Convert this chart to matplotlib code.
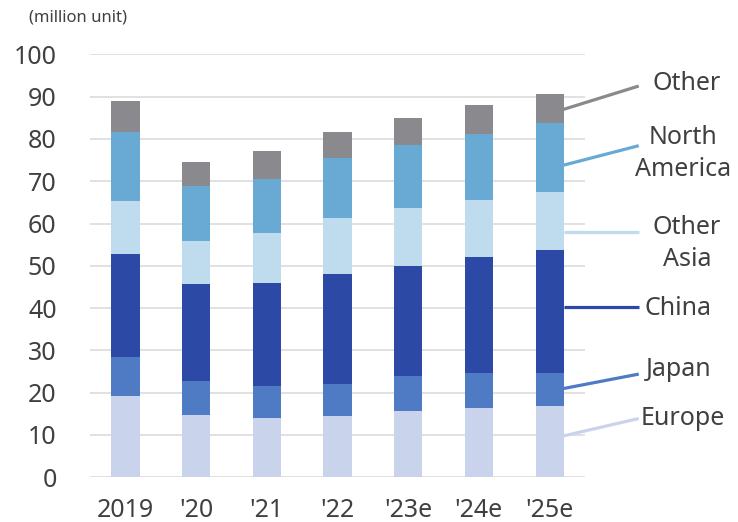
import matplotlib
matplotlib.use("Agg")
import matplotlib.pyplot as plt
import numpy as np

plt.rcParams['font.family'] = ['Noto Sans', 'DejaVu Sans']

# unit sales by region (million units)
years = ["2019", "'20", "'21", "'22", "'23e", "'24e", "'25e"]
regions = ["Europe", "Japan", "China", "Other\nAsia", "North\nAmerica", "Other"]
europe = [19.2, 14.8, 14.1, 14.6, 15.7, 16.4, 16.8]
japan = [9.2, 7.9, 7.5, 7.4, 8.3, 8.2, 7.8]
china = [24.3, 23.1, 24.3, 26.1, 26.0, 27.5, 29.1]
other_asia = [12.6, 10.0, 11.8, 13.2, 13.6, 13.4, 13.7]
north_america = [16.3, 13.0, 12.9, 14.3, 15.0, 15.7, 16.3]
other = [7.3, 5.7, 6.5, 6.0, 6.3, 6.7, 6.8]
colors = ["#c9d3ec", "#4f7bc4", "#2c4aa5", "#bfdcee", "#68aad4", "#8a898e"]

# leader line / label placement on the right (start y, end y, text x, text y)
label_pos = [
    (9.8, 13.9, 7.88, 13.8),
    (21.0, 24.4, 7.82, 25.4),
    (40.3, 40.3, 7.82, 39.8),
    (58.1, 58.1, 7.94, 55.3),
    (73.8, 78.4, 7.88, 76.6),
    (87.0, 92.5, 7.94, 93.1),
]

txt = "#404040"
fig = plt.figure(figsize=(7.38, 5.22), dpi=100)
ax = fig.add_axes([90 / 738, 44.7 / 522, 495 / 738, 423 / 522])

x = np.arange(len(years))
series = [europe, japan, china, other_asia, north_america, other]
bottom = np.zeros(len(years))
for vals, c in zip(series, colors):
    ax.bar(x, vals, 0.4, bottom=bottom, color=c, zorder=3)
    bottom += np.array(vals)

for (y0, y1, tx, ty), name, c in zip(label_pos, regions, colors):
    ax.plot([x[-1] + 0.2, 7.26], [y0, y1], color=c, lw=2.3,
            clip_on=False, zorder=4, solid_capstyle='butt')
    ax.text(tx, ty, name, ha='center', va='center', fontsize=18,
            color=txt, linespacing=1.36)

ax.set_xlim(-0.5, 6.5)
ax.set_ylim(0, 100)
ax.set_yticks(np.arange(0, 101, 10))
ax.set_xticks(x)
ax.set_xticklabels(years)
ax.grid(axis='y', color='#d9d9d9', lw=1.1, zorder=0)
ax.tick_params(length=0, labelsize=18, labelcolor=txt)
ax.tick_params(axis='y', pad=24)
ax.tick_params(axis='x', pad=15)
for s in ax.spines.values():
    s.set_visible(False)

fig.text(29 / 738, 1 - 18 / 522, "(million unit)", fontsize=12, color=txt,
         ha='left', va='center')

fig.savefig("out.png", dpi=100)
